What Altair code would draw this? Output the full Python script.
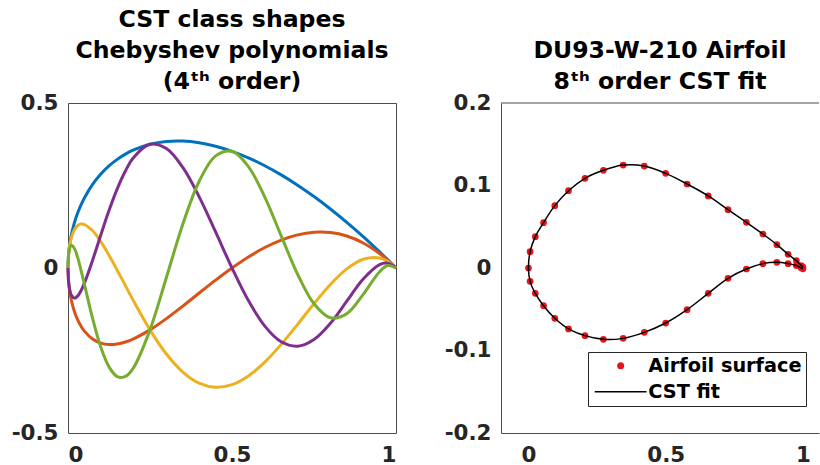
import altair as alt
import pandas as pd

# ---------------- Left panel: CST class shapes x Chebyshev polynomials ----------------
x_cls = [0, 0.002, 0.005, 0.01, 0.02, 0.03, 0.04, 0.05, 0.075, 0.1, 0.125, 0.15, 0.175, 0.2,
         0.25, 0.3, 0.35, 0.4, 0.45, 0.5, 0.55, 0.6, 0.65, 0.7, 0.75, 0.8, 0.85, 0.9, 0.95, 0.975, 1.0]
shape_0 = [0, 0.0446, 0.0704, 0.0990, 0.1386, 0.1680, 0.1920, 0.2124, 0.2533, 0.2846, 0.3094, 0.3292,
           0.3451, 0.3578, 0.3750, 0.3834, 0.3845, 0.3795, 0.3690, 0.3536, 0.3337, 0.3098, 0.2822,
           0.2510, 0.2165, 0.1789, 0.1383, 0.0949, 0.0487, 0.0247, 0]
shape_1 = [0, -0.0445, -0.0697, -0.0970, -0.1331, -0.1579, -0.1766, -0.1912, -0.2153, -0.2277, -0.2320,
           -0.2304, -0.2243, -0.2147, -0.1875, -0.1534, -0.1154, -0.0759, -0.0369, 0, 0.0334, 0.0620,
           0.0847, 0.1004, 0.1083, 0.1073, 0.0968, 0.0759, 0.0439, 0.0235, 0]
shape_2 = [0, 0.0439, 0.0676, 0.0912, 0.1169, 0.1289, 0.1330, 0.1317, 0.1127, 0.0797, 0.0387, -0.0066,
           -0.0535, -0.1002, -0.1875, -0.2607, -0.3153, -0.3491, -0.3616, -0.3536, -0.3271, -0.2851,
           -0.2314, -0.1707, -0.1083, -0.0501, -0.0028, 0.0266, 0.0302, 0.0199, 0]
shape_3 = [0, -0.0430, -0.0641, -0.0817, -0.0913, -0.0844, -0.0681, -0.0459, 0.0237, 0.1002, 0.1740,
           0.2397, 0.2939, 0.3349, 0.3750, 0.3619, 0.3046, 0.2155, 0.1092, 0, -0.0988, -0.1760,
           -0.2235, -0.2369, -0.2165, -0.1674, -0.1007, -0.0334, 0.0105, 0.0143, 0]
shape_4 = [0, 0.0418, 0.0594, 0.0689, 0.0585, 0.0298, -0.0077, -0.0491, -0.1530, -0.2400, -0.2997,
           -0.3289, -0.3285, -0.3017, -0.1875, -0.0288, 0.1326, 0.2629, 0.3397, 0.3536, 0.3073,
           0.2147, 0.0973, -0.0189, -0.1083, -0.1508, -0.1382, -0.0800, -0.0113, 0.0073, 0]
shape_names = ["T0", "T1", "T2", "T3", "T4"]
shape_colors = ["#0072BD", "#D95319", "#EDB120", "#7E2F8E", "#77AC30"]

# ---------------- Right panel: DU93-W-210 airfoil ----------------
x_upper = [1.0, 0.994, 0.976, 0.946, 0.905, 0.854, 0.794, 0.727, 0.655, 0.578, 0.5, 0.422,
           0.345, 0.273, 0.206, 0.146, 0.096, 0.055, 0.025, 0.006, 0.0]
y_upper = [0.001, 0.003, 0.0089, 0.0166, 0.0283, 0.0412, 0.0554, 0.0707, 0.0873, 0.1018, 0.1147,
           0.1236, 0.1248, 0.1184, 0.1087, 0.0937, 0.0756, 0.0550, 0.0380, 0.0198, 0.0]
x_lower = [0.006, 0.025, 0.055, 0.096, 0.146, 0.206, 0.273, 0.345, 0.422, 0.5, 0.578, 0.655,
           0.727, 0.794, 0.854, 0.905, 0.946, 0.976, 0.994, 1.0]
y_lower = [-0.0162, -0.0307, -0.0457, -0.0610, -0.0739, -0.0820, -0.0865, -0.0853, -0.0780,
           -0.0667, -0.0505, -0.0307, -0.0125, -0.0012, 0.0053, 0.0069, 0.0053, 0.0030, 0.0, -0.001]
legend_names = ["Airfoil surface", "CST fit"]

FONT = "DejaVu Sans"
AX = "#4d4d4d"
LAB = "#262626"

rows = []
for name, ys in zip(shape_names, [shape_0, shape_1, shape_2, shape_3, shape_4]):
    for i, (xv, yv) in enumerate(zip(x_cls, ys)):
        rows.append({"x": xv, "y": yv, "s": name, "i": i})
df_left = pd.DataFrame(rows)

xs_foil = x_upper + x_lower
ys_foil = y_upper + y_lower
df_foil = pd.DataFrame({"x": xs_foil, "y": ys_foil, "i": list(range(len(xs_foil))),
                        "series": ["Airfoil surface"] * len(xs_foil)})

title_common = dict(font=FONT, fontSize=23.6, fontWeight="bold", color="black",
                    lineHeight=31, anchor="middle", frame="group", baseline="bottom", offset=-26)

left = alt.Chart(df_left).mark_line(interpolate="catmull-rom", strokeWidth=3).encode(
    x=alt.X("x:Q", scale=alt.Scale(domain=[0, 1], nice=False, zero=False),
            axis=alt.Axis(values=[0, 0.5, 1], title=None, labelExpr="'' + datum.value",
                          domain=False, ticks=False, grid=False, labelPadding=11)),
    y=alt.Y("y:Q", scale=alt.Scale(domain=[-0.5, 0.5], nice=False, zero=False),
            axis=alt.Axis(values=[-0.5, 0, 0.5], title=None, labelExpr="'' + datum.value",
                          domain=False, ticks=False, grid=False, labelPadding=10)),
    color=alt.Color("s:N", scale=alt.Scale(domain=shape_names, range=shape_colors), legend=None),
    order=alt.Order("i:Q"),
).properties(
    width=328, height=330,
    title=alt.TitleParams(["CST class shapes", "Chebyshev polynomials", "(4ᵗʰ order)"], **title_common),
    view=alt.ViewBackground(stroke=AX, strokeWidth=1),
)

xscale_r = alt.Scale(domain=[-0.1, 1.0585], nice=False, zero=False)
yscale_r = alt.Scale(domain=[-0.2, 0.2], nice=False, zero=False)

legend_common = dict(title=None, orient="none", legendX=87, legendY=249,
                     direction="vertical", fillColor="white", strokeColor=LAB,
                     padding=4, cornerRadius=0, labelFont=FONT, labelFontSize=19.3,
                     labelFontWeight="bold", labelColor="black", labelLimit=400,
                     symbolSize=49, symbolOffset=19, labelOffset=18, rowPadding=6,
                     symbolStrokeWidth=0, symbolOpacity=1)

points = alt.Chart(df_foil).mark_point(filled=True, size=45, opacity=1, strokeWidth=0).encode(
    x=alt.X("x:Q", scale=xscale_r,
            axis=alt.Axis(values=[0, 0.5, 1], title=None, labelExpr="'' + datum.value",
                          domain=True, domainColor=AX, ticks=False, grid=False, labelPadding=11)),
    y=alt.Y("y:Q", scale=yscale_r,
            axis=alt.Axis(values=[-0.2, -0.1, 0, 0.1, 0.2], title=None, labelExpr="'' + datum.value",
                          domain=True, domainColor=AX, ticks=False, grid=False, labelPadding=10)),
    color=alt.Color("series:N", scale=alt.Scale(domain=legend_names, range=["#e8141a", "#000000"]),
                    legend=alt.Legend(**legend_common)),
    shape=alt.Shape("series:N", scale=alt.Scale(
        domain=legend_names,
        range=["circle", "M-7.4,-0.21L7.4,-0.21L7.4,0.21L-7.4,0.21Z"]),
        legend=alt.Legend(**legend_common)),
)

fit_line = alt.Chart(df_foil).mark_line(interpolate="catmull-rom", strokeWidth=1.5, color="black").encode(
    x=alt.X("x:Q", scale=xscale_r),
    y=alt.Y("y:Q", scale=yscale_r),
    order=alt.Order("i:Q"),
)

top_frame = alt.Chart(pd.DataFrame({"k": [0]})).mark_rule(color=AX, strokeWidth=1).encode(
    x=alt.value(0), x2=alt.value(318), y=alt.value(0)
)

right = alt.layer(points, fit_line, top_frame).properties(
    width=318, height=330,
    title=alt.TitleParams(["DU93-W-210 Airfoil", "8ᵗʰ order CST fit"], **title_common),
    view=alt.ViewBackground(stroke="transparent"),
)

chart = alt.hconcat(left, right, spacing=40).properties(
    padding={"left": 10, "top": 7, "right": 0, "bottom": 0},
    background="white",
).configure_axis(
    labelFont=FONT, labelFontSize=21.4, labelFontWeight="bold", labelColor=LAB,
).resolve_scale(color="independent", shape="independent")

chart.save("out.html", embed_options={"renderer": "svg", "actions": False})
